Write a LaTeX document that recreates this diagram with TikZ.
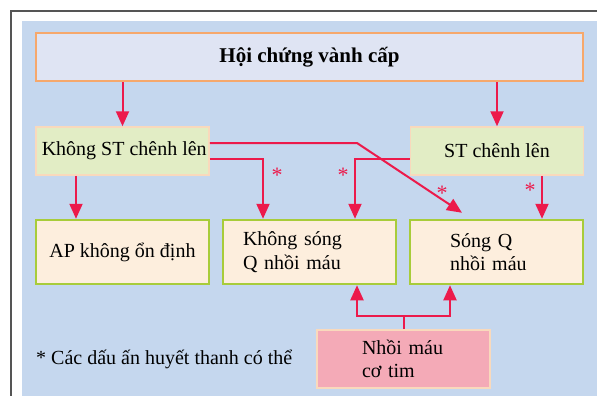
\documentclass[tikz,border=0pt]{standalone}
\usepackage{fontspec}
\setmainfont{Liberation Serif}
\usetikzlibrary{arrows.meta,calc}
\definecolor{bgblue}{HTML}{C5D7EE}
\definecolor{titlefill}{HTML}{DFE4F3}
\definecolor{titleline}{HTML}{F6A86C}
\definecolor{stfill}{HTML}{E2EDC5}
\definecolor{peachline}{HTML}{F9D9BC}
\definecolor{outfill}{HTML}{FDEEDD}
\definecolor{outline}{HTML}{A8CC3A}
\definecolor{mifill}{HTML}{F4AAB7}
\definecolor{linkred}{HTML}{EC1A4B}
\definecolor{framegray}{HTML}{555555}

\begin{document}
\begin{tikzpicture}[x=1pt,y=-1pt,font=\fontsize{20}{23.5}\selectfont,
  titlebox/.style={draw=titleline,line width=2.5pt,fill=titlefill,minimum width=547pt,minimum height=48pt,font=\fontsize{21}{24}\selectfont\bfseries},
  stbox/.style={draw=peachline,line width=1.5pt,fill=stfill,minimum width=173pt,minimum height=48pt},
  outbox/.style={draw=outline,line width=2.5pt,fill=outfill,minimum width=173pt,minimum height=64pt},
  mibox/.style={draw=peachline,line width=2pt,fill=mifill,minimum width=173pt,minimum height=58pt},
  link/.style={draw=linkred,line width=2pt,-{Triangle[length=15pt,width=13pt]}},
  plain/.style={draw=linkred,line width=2pt},
  star/.style={text=linkred,inner sep=0pt,anchor=base,font=\fontsize{22}{22}\selectfont}]
\useasboundingbox (0,0) rectangle (597,396);
\fill [white] (0,0) rectangle (597,396);
\draw [framegray,line width=1.3pt] (11,396) -- (11,11) -- (597,11);
\fill [bgblue] (22,21) rectangle (597,396);

\node [titlebox] (hcvc) at (309.5,57) {Hội chứng vành cấp};
\node [stbox,inner xsep=1pt] (kst) at (122.5,151) {\hspace*{3.5pt}Không ST chênh lên};
\node [stbox] (st) at (497,151) {ST chênh lên};
\node [outbox] (ap) at (122.5,252) {AP không ổn định};
\node [outbox,align=left,text width=133pt,inner xsep=20pt] (ksq) at (309.5,252) {Không sóng\\Q nhồi máu};
\node [outbox,align=left,text width=93pt,inner xsep=40pt] (sq) at (496.5,252) {Sóng Q\\nhồi máu};
\node [mibox,align=left,text width=83pt,inner xsep=45pt] (nmct) at (403.5,359) {Nhồi máu\\cơ tim};
\node [anchor=west,inner sep=0pt] (note) at (36,359) {* Các dấu ấn huyết thanh có thể};

\draw [link] (kst.north |- hcvc.south) -- (kst.north);
\draw [link] (st.north |- hcvc.south) -- (st.north);
\draw [link] ([xshift=-46.5pt]kst.south) -- ([xshift=-46.5pt]ap.north);
\draw [link] ([xshift=45pt]st.south) -- ([xshift=45.5pt]sq.north);
\coordinate (bend) at (357,143);
\draw [link] ([yshift=8pt]kst.east) -- (bend) -- ([xshift=-34.5pt,yshift=6pt]sq.north);
\draw [link] ([yshift=-8pt]kst.east) -| ([xshift=-46.5pt]ksq.north);
\draw [link] ([yshift=-8pt]st.west) -| ([xshift=45.5pt]ksq.north);
\coordinate (fork) at (403.5,316);
\draw [plain] (nmct.north) -- (fork);
\draw [link] (fork) -| ([xshift=47.5pt]ksq.south);
\draw [link] (fork) -| ([xshift=-46.5pt]sq.south);

\node [star] (s1) at (277,182) {*};
\node [star] (s2) at (343,182) {*};
\node [star] (s3) at (442,200) {*};
\node [star] (s4) at (530,197) {*};
\end{tikzpicture}
\end{document}
